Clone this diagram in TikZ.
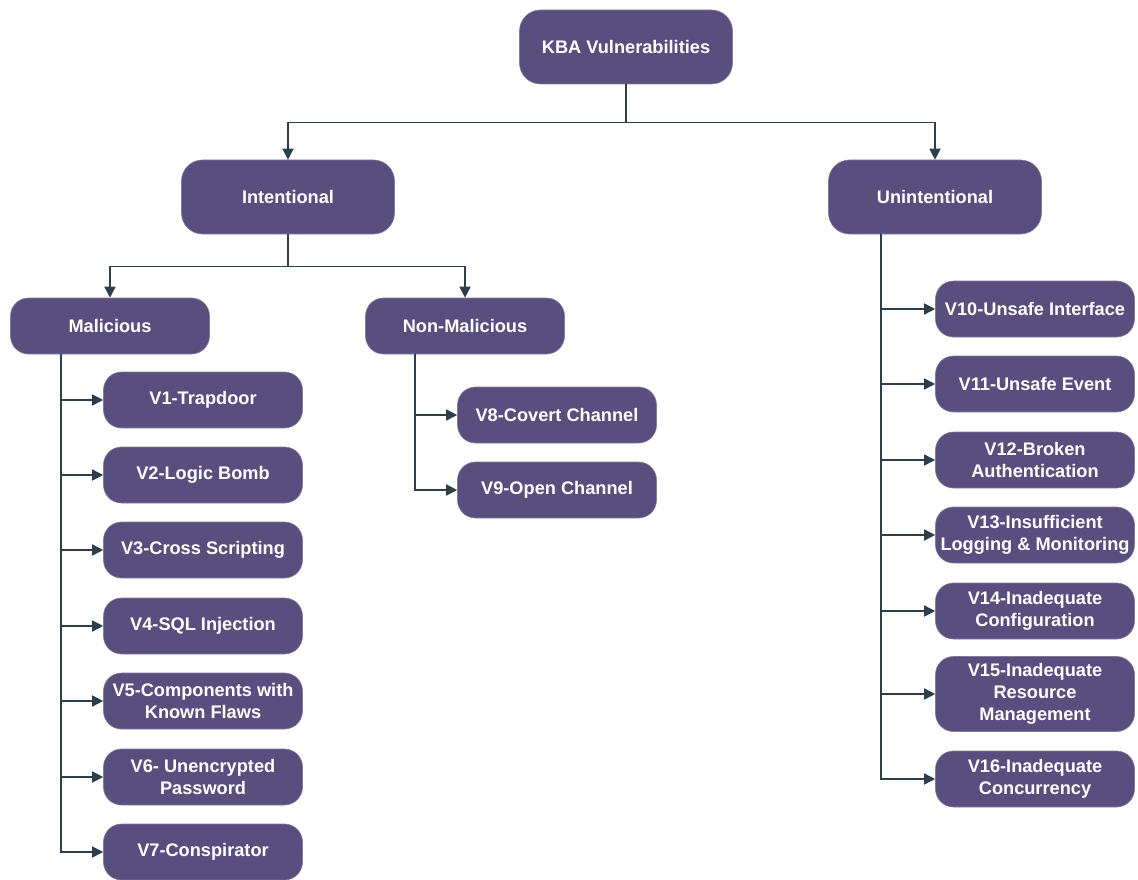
\documentclass[tikz,border=0pt]{standalone}
\usepackage{fontspec}
\setmainfont{Liberation Sans}
\usetikzlibrary{arrows.meta}
\definecolor{boxfill}{HTML}{594F7E}
\definecolor{linecol}{HTML}{2E3F4C}
\tikzset{
  vbox/.style={rectangle, rounded corners=18pt, fill=boxfill, draw=boxfill!75!white, line width=0.6pt,
    text=white, font=\fontsize{18.2}{22}\selectfont\bfseries, align=center, inner sep=0pt,
    minimum width=199pt, minimum height=56pt},
  bigbox/.style={vbox, minimum width=213pt, minimum height=74pt, rounded corners=21pt},
  link/.style={draw=linecol, line width=1.5pt, -{Triangle[length=11pt,width=11pt]}},
}

\begin{document}
\begin{tikzpicture}[x=1pt,y=-1pt]
			%%%%% START %%%%%
			\useasboundingbox (0,0) rectangle (1138,880);
			
			\node[bigbox] (kba) at (626,47) {KBA Vulnerabilities};
			\node[bigbox] (intent) at (288,197) {Intentional};
			\node[bigbox] (unintent) at (935,197) {Unintentional};
			
			\node[vbox] (mal) at (110,326) {Malicious};
			\node[vbox] (nonmal) at (465,326) {Non-Malicious};
			
			\node[vbox] (v1) at (203,400) {V1-Trapdoor};
			\node[vbox] (v2) at (203,475) {V2-Logic Bomb};
			\node[vbox] (v3) at (203,550) {V3-Cross Scripting};
			\node[vbox] (v4) at (203,626) {V4-SQL Injection};
			\node[vbox] (v5) at (203,701) {V5-Components with\\Known Flaws};
			\node[vbox] (v6) at (203,777) {V6- Unencrypted\\Password};
			\node[vbox] (v7) at (203,852) {V7-Conspirator};
			
			\node[vbox] (v8) at (557,415) {V8-Covert Channel};
			\node[vbox] (v9) at (557,490) {V9-Open Channel};
			
			\node[vbox] (v10) at (1035,309) {V10-Unsafe Interface};
			\node[vbox] (v11) at (1035,384) {V11-Unsafe Event};
			\node[vbox] (v12) at (1035,460) {V12-Broken\\Authentication};
			\node[vbox] (v13) at (1035,535) {V13-Insufficient\\Logging \& Monitoring};
			\node[vbox] (v14) at (1035,611) {V14-Inadequate\\Configuration};
			\node[vbox, minimum height=75pt] (v15) at (1035,694) {V15-Inadequate\\Resource\\Management};
			\node[vbox] (v16) at (1035,779) {V16-Inadequate\\Concurrency};
			
			% top levels
			\draw[link] (kba.south) -- ++(0,38) -| (intent.north);
			\draw[link] (kba.south) -- ++(0,38) -| (unintent.north);
			\draw[link] (intent.south) -- ++(0,32) -| (mal.north);
			\draw[link] (intent.south) -- ++(0,32) -| (nonmal.north);
			
			% leaves
			\foreach \v in {v1,v2,v3,v4,v5,v6,v7}
				\draw[link] ([xshift=-49pt]mal.south) |- (\v.west);
			\foreach \v in {v8,v9}
				\draw[link] ([xshift=-50pt]nonmal.south) |- (\v.west);
			\foreach \v in {v10,v11,v12,v13,v14,v15,v16}
				\draw[link] ([xshift=-54pt]unintent.south) |- (\v.west);
			
			%%%%% END %%%%%
\end{tikzpicture}
\end{document}
